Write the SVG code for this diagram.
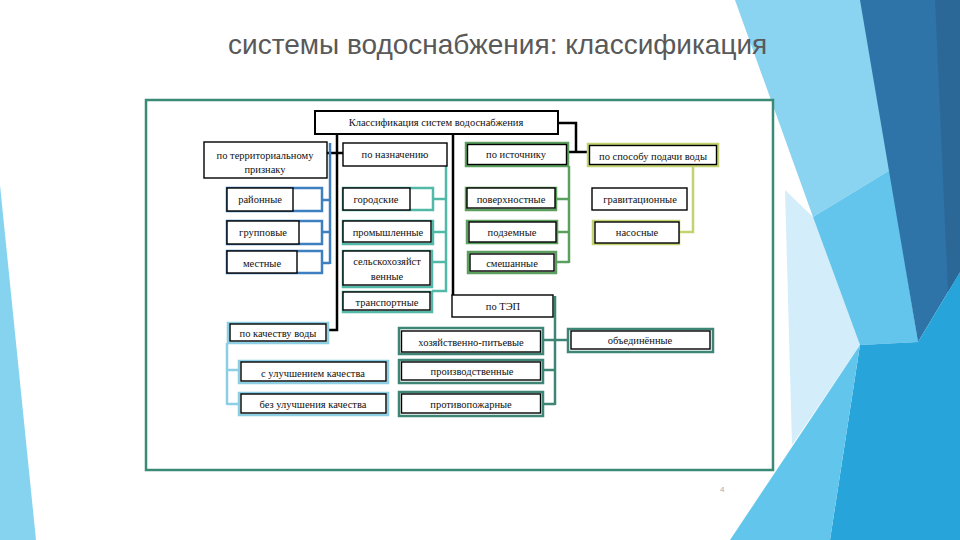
<svg xmlns="http://www.w3.org/2000/svg" width="960" height="540" viewBox="0 0 960 540">
<style>
.t{font-family:"Liberation Serif","Times New Roman",serif;font-size:10.5px;fill:#111;text-anchor:middle}
.in{fill:#fff;stroke:#000;stroke-width:1.4}
.blk{fill:none;stroke:#000;stroke-width:2.5}
.cb{fill:#fff;stroke:#3e7fc1;stroke-width:2.5}
.ct{fill:#fff;stroke:#52b8a8;stroke-width:2.5}
.cg{fill:#fff;stroke:#5ba05e;stroke-width:2.5}
.cy{fill:#fff;stroke:#c3d36f;stroke-width:2.5}
.cl{fill:#fff;stroke:#8ccfe4;stroke-width:2.5}
.cd{fill:#fff;stroke:#3e8575;stroke-width:2.5}
</style>
<rect width="960" height="540" fill="#fff"/>
<g id="background">
<polygon points="0,185 36,540 0,540" fill="#86d3ef"/>
<polygon points="785,190 813,217 860,345 792,445" fill="#d3eefa"/>
<polygon points="735,0 862,0 890,170 813,217" fill="#8ad3f1"/>
<polygon points="813,217 890,170 918,342 860,345" fill="#63c4ec"/>
<polygon points="860,0 960,0 960,272 918,342" fill="#2f74a8"/>
<polygon points="935,0 960,0 960,272 948,292" fill="#2b6898"/>
<polygon points="918,342 960,272 960,540 830,540 860,345" fill="#27a5db"/>
<polygon points="860,345 830,540 730,540" fill="#62c5ec"/>
</g>
<text x="228" y="54" font-family="Liberation Sans, Arial, sans-serif" font-size="28" fill="#595959">системы водоснабжения: классификация</text>
<text x="720" y="492" font-family="Liberation Sans, Arial, sans-serif" font-size="8" fill="#aaa">4</text>
<rect x="146" y="100" width="627" height="370" fill="#fff" stroke="#3b8a76" stroke-width="2.5"/>
<g id="connectors" fill="none">
<polyline class="blk" points="337,134 337,330 328,330"/>
<line class="blk" x1="327" y1="153" x2="343" y2="153"/>
<line class="blk" x1="453" y1="134" x2="453" y2="296"/>
<polyline class="blk" points="558,123 576,123 576,152"/>
<line class="blk" x1="568" y1="152" x2="588" y2="152"/>
<g stroke="#3e7fc1" stroke-width="2.5"><line x1="330" y1="143" x2="330" y2="264"/><line x1="322" y1="200" x2="330" y2="200"/><line x1="322" y1="232" x2="330" y2="232"/><line x1="322" y1="263" x2="330" y2="263"/></g>
<g stroke="#52b8a8" stroke-width="2.5"><polyline points="446,166 446,291 432,291"/><line x1="433" y1="199" x2="446" y2="199"/><line x1="433" y1="232" x2="446" y2="232"/><line x1="432" y1="262" x2="446" y2="262"/></g>
<g stroke="#5ba05e" stroke-width="2.5"><line x1="569" y1="166" x2="569" y2="263"/><line x1="556" y1="199" x2="569" y2="199"/><line x1="557" y1="232" x2="569" y2="232"/><line x1="556" y1="262" x2="569" y2="262"/></g>
<g stroke="#c3d36f" stroke-width="2.5"><polyline points="693,166 693,232 679,232"/></g>
<g stroke="#8ccfe4" stroke-width="2.5"><line x1="227" y1="343" x2="227" y2="405"/><line x1="227" y1="370" x2="239" y2="370"/><line x1="227" y1="404" x2="239" y2="404"/></g>
<g stroke="#3e8575" stroke-width="2.5"><line x1="555" y1="296" x2="555" y2="405"/><line x1="543" y1="340" x2="568" y2="340"/><line x1="543" y1="370" x2="555" y2="370"/><line x1="543" y1="404" x2="555" y2="404"/></g>
</g>
<g id="root"><rect x="315" y="111" width="243" height="23" fill="#fff" stroke="#000" stroke-width="2"/><text class="t" x="436" y="126">Классификация систем водоснабжения</text></g>
<g id="territorial"><rect class="in" x="204" y="142" width="123" height="36" stroke-width="1.8"/><text class="t" x="265" y="159">по территориальному</text><text class="t" x="265" y="173">признаку</text></g>
<g id="purpose"><rect class="in" x="343" y="143" width="104" height="23" stroke-width="1.8"/><text class="t" x="395" y="158">по назначению</text></g>
<g id="source"><rect class="cg" x="466" y="143" width="102" height="23"/><rect class="in" x="467.5" y="144.5" width="99" height="20"/><text class="t" x="516" y="158">по источнику</text></g>
<g id="supply"><rect class="cy" x="588" y="144" width="130" height="22"/><rect class="in" x="589.5" y="145.5" width="127" height="19"/><text class="t" x="653" y="160">по способу подачи воды</text></g>
<g id="district"><rect class="cb" x="227" y="188" width="95" height="23"/><rect class="in" x="227" y="188" width="66" height="23"/><text class="t" x="260" y="203">районные</text></g>
<g id="group"><rect class="cb" x="227" y="221" width="95" height="23"/><rect class="in" x="227" y="221" width="72" height="23"/><text class="t" x="263" y="236">групповые</text></g>
<g id="local"><rect class="cb" x="227" y="251" width="95" height="22"/><rect class="in" x="227" y="251" width="70" height="22"/><text class="t" x="262" y="267">местные</text></g>
<g id="urban"><rect class="ct" x="343" y="188" width="90" height="22"/><rect class="in" x="343" y="188" width="67" height="22"/><text class="t" x="376" y="203">городские</text></g>
<g id="industrial"><rect class="ct" x="343" y="221" width="90" height="23"/><rect class="in" x="343" y="221" width="88" height="21"/><text class="t" x="388" y="236">промышленные</text></g>
<g id="agricultural"><rect class="ct" x="343" y="251" width="89" height="36"/><rect class="in" x="343" y="251" width="87" height="34"/><text class="t" x="387" y="265">сельскохозяйст</text><text class="t" x="387" y="280">венные</text></g>
<g id="transport"><rect class="ct" x="343" y="292" width="89" height="20"/><rect class="in" x="343" y="292" width="87" height="18"/><text class="t" x="387" y="306">транспортные</text></g>
<g id="surface"><rect class="cg" x="466" y="188" width="90" height="22"/><rect class="in" x="467" y="188" width="88" height="20"/><text class="t" x="511" y="203">поверхностные</text></g>
<g id="underground"><rect class="cg" x="467" y="221" width="90" height="22"/><rect class="in" x="469" y="222" width="87" height="20"/><text class="t" x="512" y="236">подземные</text></g>
<g id="mixed"><rect class="cg" x="468" y="252" width="88" height="21" stroke-width="3"/><rect class="in" x="470" y="254" width="84" height="17"/><text class="t" x="512" y="267">смешанные</text></g>
<g id="gravity"><rect class="in" x="592" y="188" width="95" height="22"/><text class="t" x="640" y="203">гравитационные</text></g>
<g id="pumped"><rect class="cy" x="593" y="221" width="86" height="23"/><rect class="in" x="595" y="222" width="84" height="21"/><text class="t" x="637" y="236">насосные</text></g>
<g id="tep"><rect class="in" x="452" y="295" width="101" height="22" stroke-width="1.8"/><text class="t" x="503" y="310">по ТЭП</text></g>
<g id="quality"><rect class="cl" x="228" y="323" width="100" height="20"/><rect class="in" x="230" y="324" width="96" height="17"/><text class="t" x="278" y="337">по качеству воды</text></g>
<g id="improved"><rect class="cl" x="239" y="361" width="149" height="22"/><rect class="in" x="241" y="362" width="145" height="19"/><text class="t" x="313" y="377">с улучшением качества</text></g>
<g id="unimproved"><rect class="cl" x="239" y="393" width="149" height="22"/><rect class="in" x="241" y="394" width="145" height="19"/><text class="t" x="313" y="408">без улучшения качества</text></g>
<g id="drinking"><rect class="cd" x="399" y="328" width="144" height="26"/><rect class="in" x="401.5" y="331" width="139" height="21"/><text class="t" x="471" y="346">хозяйственно-питьевые</text></g>
<g id="production"><rect class="cd" x="399" y="360" width="144" height="23"/><rect class="in" x="401.5" y="362" width="139" height="18"/><text class="t" x="472" y="375">производственные</text></g>
<g id="fire"><rect class="cd" x="399" y="392" width="144" height="24"/><rect class="in" x="401.5" y="394" width="139" height="19"/><text class="t" x="471" y="408">противопожарные</text></g>
<g id="combined"><rect class="cd" x="568" y="329" width="145" height="23"/><rect class="in" x="571" y="331" width="139" height="18"/><text class="t" x="640" y="344">объединённые</text></g>
</svg>
